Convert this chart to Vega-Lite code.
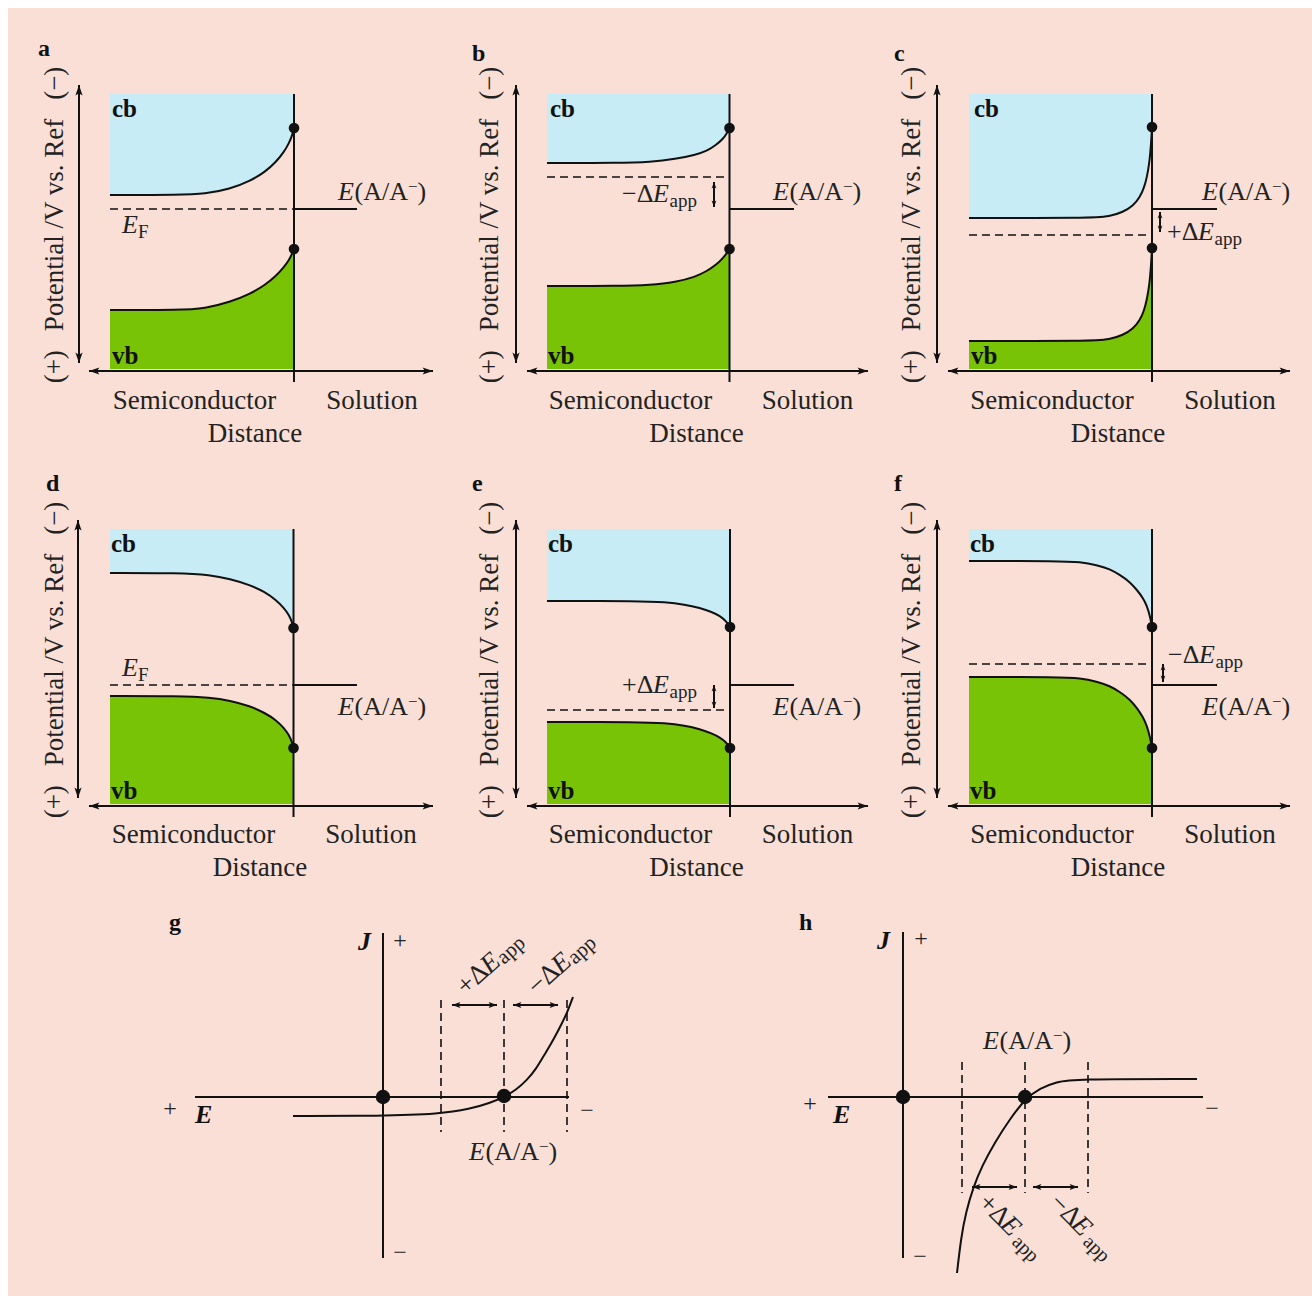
{
  "$schema": "https://vega.github.io/schema/vega-lite/v6.json",
  "width": 1312,
  "height": 1296,
  "padding": 0,
  "autosize": {"type": "fit", "contains": "padding"},
  "background": "white",
  "config": {"view": {"stroke": null}},
  "datasets": {
    "bg": [{"x": 8, "y": 8, "x2": 1312, "y2": 1296}],
    "bands": [
      {"p":"a","b":"cb","x":110,"y":195,"y2":94},{"p":"a","b":"cb","x":180,"y":195,"y2":94},{"p":"a","b":"cb","x":205,"y":194,"y2":94},{"p":"a","b":"cb","x":230,"y":189,"y2":94},{"p":"a","b":"cb","x":250,"y":181,"y2":94},{"p":"a","b":"cb","x":265,"y":172,"y2":94},{"p":"a","b":"cb","x":276,"y":162,"y2":94},{"p":"a","b":"cb","x":284,"y":152,"y2":94},{"p":"a","b":"cb","x":289,"y":143,"y2":94},{"p":"a","b":"cb","x":292,"y":136,"y2":94},{"p":"a","b":"cb","x":294,"y":128,"y2":94},
      {"p":"a","b":"vb","x":110,"y":310,"y2":369},{"p":"a","b":"vb","x":180,"y":310,"y2":369},{"p":"a","b":"vb","x":205,"y":308.5,"y2":369},{"p":"a","b":"vb","x":230,"y":302,"y2":369},{"p":"a","b":"vb","x":250,"y":294,"y2":369},{"p":"a","b":"vb","x":265,"y":285,"y2":369},{"p":"a","b":"vb","x":276,"y":276,"y2":369},{"p":"a","b":"vb","x":284,"y":267,"y2":369},{"p":"a","b":"vb","x":289,"y":260,"y2":369},{"p":"a","b":"vb","x":292,"y":254,"y2":369},{"p":"a","b":"vb","x":294,"y":249,"y2":369},
      {"p":"b","b":"cb","x":547,"y":163,"y2":94},{"p":"b","b":"cb","x":620,"y":163,"y2":94},{"p":"b","b":"cb","x":650,"y":162,"y2":94},{"p":"b","b":"cb","x":676,"y":159,"y2":94},{"p":"b","b":"cb","x":695,"y":155,"y2":94},{"p":"b","b":"cb","x":707,"y":151,"y2":94},{"p":"b","b":"cb","x":716,"y":145,"y2":94},{"p":"b","b":"cb","x":723,"y":139,"y2":94},{"p":"b","b":"cb","x":727,"y":133,"y2":94},{"p":"b","b":"cb","x":729.5,"y":128,"y2":94},
      {"p":"b","b":"vb","x":547,"y":286,"y2":369},{"p":"b","b":"vb","x":620,"y":286,"y2":369},{"p":"b","b":"vb","x":650,"y":285,"y2":369},{"p":"b","b":"vb","x":676,"y":282,"y2":369},{"p":"b","b":"vb","x":695,"y":277,"y2":369},{"p":"b","b":"vb","x":707,"y":271,"y2":369},{"p":"b","b":"vb","x":716,"y":265,"y2":369},{"p":"b","b":"vb","x":723,"y":258,"y2":369},{"p":"b","b":"vb","x":727,"y":253,"y2":369},{"p":"b","b":"vb","x":729.5,"y":249,"y2":369},
      {"p":"c","b":"cb","x":969,"y":218,"y2":94},{"p":"c","b":"cb","x":1090,"y":218,"y2":94},{"p":"c","b":"cb","x":1110,"y":216.5,"y2":94},{"p":"c","b":"cb","x":1123,"y":212,"y2":94},{"p":"c","b":"cb","x":1133,"y":206,"y2":94},{"p":"c","b":"cb","x":1140,"y":197,"y2":94},{"p":"c","b":"cb","x":1144,"y":188,"y2":94},{"p":"c","b":"cb","x":1147,"y":177,"y2":94},{"p":"c","b":"cb","x":1149.5,"y":162,"y2":94},{"p":"c","b":"cb","x":1151,"y":145,"y2":94},{"p":"c","b":"cb","x":1152,"y":127,"y2":94},
      {"p":"c","b":"vb","x":969,"y":341,"y2":369},{"p":"c","b":"vb","x":1090,"y":341,"y2":369},{"p":"c","b":"vb","x":1110,"y":339.5,"y2":369},{"p":"c","b":"vb","x":1123,"y":335,"y2":369},{"p":"c","b":"vb","x":1133,"y":329,"y2":369},{"p":"c","b":"vb","x":1140,"y":320,"y2":369},{"p":"c","b":"vb","x":1144,"y":311,"y2":369},{"p":"c","b":"vb","x":1147,"y":299,"y2":369},{"p":"c","b":"vb","x":1149.5,"y":284,"y2":369},{"p":"c","b":"vb","x":1151,"y":266,"y2":369},{"p":"c","b":"vb","x":1152,"y":248,"y2":369},
      {"p":"d","b":"cb","x":110,"y":573,"y2":529},{"p":"d","b":"cb","x":180,"y":573,"y2":529},{"p":"d","b":"cb","x":210,"y":575,"y2":529},{"p":"d","b":"cb","x":230,"y":579,"y2":529},{"p":"d","b":"cb","x":250,"y":585,"y2":529},{"p":"d","b":"cb","x":265,"y":592,"y2":529},{"p":"d","b":"cb","x":276,"y":600,"y2":529},{"p":"d","b":"cb","x":284,"y":608,"y2":529},{"p":"d","b":"cb","x":289,"y":615,"y2":529},{"p":"d","b":"cb","x":292,"y":622,"y2":529},{"p":"d","b":"cb","x":293.5,"y":628,"y2":529},
      {"p":"d","b":"vb","x":110,"y":696,"y2":804},{"p":"d","b":"vb","x":180,"y":696,"y2":804},{"p":"d","b":"vb","x":210,"y":697.5,"y2":804},{"p":"d","b":"vb","x":230,"y":700.5,"y2":804},{"p":"d","b":"vb","x":250,"y":706,"y2":804},{"p":"d","b":"vb","x":265,"y":713,"y2":804},{"p":"d","b":"vb","x":276,"y":720,"y2":804},{"p":"d","b":"vb","x":284,"y":728,"y2":804},{"p":"d","b":"vb","x":289,"y":735,"y2":804},{"p":"d","b":"vb","x":292,"y":742,"y2":804},{"p":"d","b":"vb","x":293.5,"y":748,"y2":804},
      {"p":"e","b":"cb","x":547,"y":601,"y2":529},{"p":"e","b":"cb","x":640,"y":601,"y2":529},{"p":"e","b":"cb","x":665,"y":602,"y2":529},{"p":"e","b":"cb","x":685,"y":604.5,"y2":529},{"p":"e","b":"cb","x":700,"y":608,"y2":529},{"p":"e","b":"cb","x":712,"y":612,"y2":529},{"p":"e","b":"cb","x":720,"y":616,"y2":529},{"p":"e","b":"cb","x":726,"y":621,"y2":529},{"p":"e","b":"cb","x":730,"y":627,"y2":529},
      {"p":"e","b":"vb","x":547,"y":722,"y2":804},{"p":"e","b":"vb","x":640,"y":722,"y2":804},{"p":"e","b":"vb","x":665,"y":723,"y2":804},{"p":"e","b":"vb","x":685,"y":725.5,"y2":804},{"p":"e","b":"vb","x":700,"y":729,"y2":804},{"p":"e","b":"vb","x":712,"y":733.5,"y2":804},{"p":"e","b":"vb","x":720,"y":737.5,"y2":804},{"p":"e","b":"vb","x":726,"y":742,"y2":804},{"p":"e","b":"vb","x":730,"y":748,"y2":804},
      {"p":"f","b":"cb","x":969,"y":561,"y2":529},{"p":"f","b":"cb","x":1060,"y":561,"y2":529},{"p":"f","b":"cb","x":1080,"y":562,"y2":529},{"p":"f","b":"cb","x":1097,"y":565,"y2":529},{"p":"f","b":"cb","x":1110,"y":569,"y2":529},{"p":"f","b":"cb","x":1120,"y":575,"y2":529},{"p":"f","b":"cb","x":1130,"y":582,"y2":529},{"p":"f","b":"cb","x":1137,"y":590,"y2":529},{"p":"f","b":"cb","x":1143,"y":598,"y2":529},{"p":"f","b":"cb","x":1147,"y":606,"y2":529},{"p":"f","b":"cb","x":1150,"y":616,"y2":529},{"p":"f","b":"cb","x":1152,"y":627,"y2":529},
      {"p":"f","b":"vb","x":969,"y":677,"y2":804},{"p":"f","b":"vb","x":1060,"y":677,"y2":804},{"p":"f","b":"vb","x":1080,"y":678,"y2":804},{"p":"f","b":"vb","x":1097,"y":681.5,"y2":804},{"p":"f","b":"vb","x":1110,"y":686,"y2":804},{"p":"f","b":"vb","x":1120,"y":692,"y2":804},{"p":"f","b":"vb","x":1130,"y":699.5,"y2":804},{"p":"f","b":"vb","x":1137,"y":708,"y2":804},{"p":"f","b":"vb","x":1143,"y":717,"y2":804},{"p":"f","b":"vb","x":1147,"y":726,"y2":804},{"p":"f","b":"vb","x":1150,"y":737,"y2":804},{"p":"f","b":"vb","x":1152,"y":748,"y2":804}
    ],
    "jcurves": [
      {"p":"g","x":293,"y":1116},{"p":"g","x":380,"y":1116},{"p":"g","x":440,"y":1114},{"p":"g","x":470,"y":1109},{"p":"g","x":490,"y":1103},{"p":"g","x":504,"y":1097},{"p":"g","x":516,"y":1090},{"p":"g","x":527,"y":1080},{"p":"g","x":536,"y":1069},{"p":"g","x":543,"y":1057},{"p":"g","x":551,"y":1044},{"p":"g","x":557,"y":1033},{"p":"g","x":563,"y":1021},{"p":"g","x":567,"y":1013},{"p":"g","x":573,"y":997},
      {"p":"h","x":957,"y":1273},{"p":"h","x":961,"y":1238},{"p":"h","x":966,"y":1212},{"p":"h","x":973,"y":1188},{"p":"h","x":982,"y":1166},{"p":"h","x":995,"y":1142},{"p":"h","x":1010,"y":1119},{"p":"h","x":1025,"y":1099},{"p":"h","x":1040,"y":1088},{"p":"h","x":1057,"y":1082},{"p":"h","x":1072,"y":1079},{"p":"h","x":1197,"y":1079}
    ],
    "rules": [
      {"x":79,"y":85,"x2":79,"y2":363},{"x":89,"y":371,"x2":433,"y2":371},{"x":294,"y":94,"x2":294,"y2":382},{"x":294,"y":209,"x2":357,"y2":209},
      {"x":516,"y":85,"x2":516,"y2":363},{"x":527,"y":371,"x2":868,"y2":371},{"x":729.5,"y":94,"x2":729.5,"y2":382},{"x":729.5,"y":209,"x2":794,"y2":209},{"x":714,"y":182,"x2":714,"y2":207},
      {"x":937,"y":85,"x2":937,"y2":363},{"x":948,"y":371,"x2":1290,"y2":371},{"x":1152,"y":94,"x2":1152,"y2":382},{"x":1152,"y":209,"x2":1217,"y2":209},{"x":1160,"y":212,"x2":1160,"y2":232},
      {"x":78,"y":520,"x2":78,"y2":798},{"x":89,"y":806,"x2":433,"y2":806},{"x":293.5,"y":529,"x2":293.5,"y2":817},{"x":293.5,"y":685,"x2":357,"y2":685},
      {"x":516,"y":520,"x2":516,"y2":798},{"x":527,"y":806,"x2":868,"y2":806},{"x":730,"y":529,"x2":730,"y2":817},{"x":730,"y":685,"x2":794,"y2":685},{"x":714,"y":685,"x2":714,"y2":708},
      {"x":937,"y":520,"x2":937,"y2":798},{"x":948,"y":806,"x2":1290,"y2":806},{"x":1152,"y":529,"x2":1152,"y2":817},{"x":1152,"y":685,"x2":1217,"y2":685},{"x":1163,"y":664,"x2":1163,"y2":682},
      {"x":383,"y":933,"x2":383,"y2":1258},{"x":195,"y":1097,"x2":569,"y2":1097},{"x":452,"y":1005,"x2":497,"y2":1005},{"x":513,"y":1005,"x2":558,"y2":1005},
      {"x":903,"y":932,"x2":903,"y2":1258},{"x":828,"y":1097,"x2":1203,"y2":1097},{"x":972,"y":1187,"x2":1017,"y2":1187},{"x":1033,"y":1187,"x2":1078,"y2":1187}
    ],
    "dashed": [
      {"x":110,"y":209,"x2":294,"y2":209},{"x":547,"y":177,"x2":729.5,"y2":177},{"x":969,"y":235,"x2":1152,"y2":235},
      {"x":110,"y":685,"x2":293.5,"y2":685},{"x":547,"y":710,"x2":730,"y2":710},{"x":969,"y":664,"x2":1152,"y2":664},
      {"x":441,"y":1000,"x2":441,"y2":1132},{"x":504,"y":1000,"x2":504,"y2":1132},{"x":567,"y":1000,"x2":567,"y2":1132},
      {"x":962,"y":1062,"x2":962,"y2":1193},{"x":1025,"y":1062,"x2":1025,"y2":1193},{"x":1088,"y":1062,"x2":1088,"y2":1193}
    ],
    "headsBig": [
      {"x":79,"y":85,"dir":0},{"x":79,"y":363,"dir":180},{"x":89,"y":371,"dir":270},{"x":433,"y":371,"dir":90},
      {"x":516,"y":85,"dir":0},{"x":516,"y":363,"dir":180},{"x":527,"y":371,"dir":270},{"x":868,"y":371,"dir":90},
      {"x":937,"y":85,"dir":0},{"x":937,"y":363,"dir":180},{"x":948,"y":371,"dir":270},{"x":1290,"y":371,"dir":90},
      {"x":78,"y":520,"dir":0},{"x":78,"y":798,"dir":180},{"x":89,"y":806,"dir":270},{"x":433,"y":806,"dir":90},
      {"x":516,"y":520,"dir":0},{"x":516,"y":798,"dir":180},{"x":527,"y":806,"dir":270},{"x":868,"y":806,"dir":90},
      {"x":937,"y":520,"dir":0},{"x":937,"y":798,"dir":180},{"x":948,"y":806,"dir":270},{"x":1290,"y":806,"dir":90}
    ],
    "headsSmall": [
      {"x":714,"y":182,"dir":0},{"x":714,"y":207,"dir":180},{"x":1160,"y":212,"dir":0},{"x":1160,"y":232,"dir":180},
      {"x":714,"y":685,"dir":0},{"x":714,"y":708,"dir":180},{"x":1163,"y":664,"dir":0},{"x":1163,"y":682,"dir":180}
    ],
    "headsMid": [
      {"x":452,"y":1005,"dir":270},{"x":497,"y":1005,"dir":90},{"x":513,"y":1005,"dir":270},{"x":558,"y":1005,"dir":90},
      {"x":972,"y":1187,"dir":270},{"x":1017,"y":1187,"dir":90},{"x":1033,"y":1187,"dir":270},{"x":1078,"y":1187,"dir":90}
    ],
    "dotsSmall": [
      {"x":294,"y":128},{"x":294,"y":249},{"x":729.5,"y":128},{"x":729.5,"y":249},{"x":1152,"y":127},{"x":1152,"y":248},
      {"x":293.5,"y":628},{"x":293.5,"y":748},{"x":730,"y":627},{"x":730,"y":748},{"x":1152,"y":627},{"x":1152,"y":748}
    ],
    "dotsBig": [{"x":383,"y":1097},{"x":504,"y":1096},{"x":903,"y":1097},{"x":1025,"y":1097}],
    "labels": [
      {"r":"L","t":"a","x":38,"y":56},{"r":"L","t":"b","x":472,"y":61},{"r":"L","t":"c","x":894,"y":61},
      {"r":"L","t":"d","x":46,"y":491},{"r":"L","t":"e","x":472,"y":491},{"r":"L","t":"f","x":894,"y":491},
      {"r":"L","t":"g","x":169,"y":930},{"r":"L","t":"h","x":799,"y":930},
      {"r":"B","t":"cb","x":112,"y":117},{"r":"B","t":"vb","x":112,"y":364},
      {"r":"B","t":"cb","x":550,"y":117},{"r":"B","t":"vb","x":548,"y":364},
      {"r":"B","t":"cb","x":974,"y":117},{"r":"B","t":"vb","x":971,"y":364},
      {"r":"B","t":"cb","x":111,"y":552},{"r":"B","t":"vb","x":111,"y":799},
      {"r":"B","t":"cb","x":548,"y":552},{"r":"B","t":"vb","x":548,"y":799},
      {"r":"B","t":"cb","x":970,"y":552},{"r":"B","t":"vb","x":970,"y":799},
      {"r":"N","t":"Semiconductor","x":194.5,"y":409},{"r":"N","t":"Solution","x":372,"y":409},{"r":"N","t":"Distance","x":255,"y":442},
      {"r":"N","t":"Semiconductor","x":630.5,"y":409},{"r":"N","t":"Solution","x":807.5,"y":409},{"r":"N","t":"Distance","x":696.5,"y":442},
      {"r":"N","t":"Semiconductor","x":1052,"y":409},{"r":"N","t":"Solution","x":1230,"y":409},{"r":"N","t":"Distance","x":1118,"y":442},
      {"r":"N","t":"Semiconductor","x":193.5,"y":843},{"r":"N","t":"Solution","x":371,"y":843},{"r":"N","t":"Distance","x":260,"y":876},
      {"r":"N","t":"Semiconductor","x":630.5,"y":843},{"r":"N","t":"Solution","x":807.5,"y":843},{"r":"N","t":"Distance","x":696.5,"y":876},
      {"r":"N","t":"Semiconductor","x":1052,"y":843},{"r":"N","t":"Solution","x":1230,"y":843},{"r":"N","t":"Distance","x":1118,"y":876},
      {"r":"Y","t":"(+)\u00a0\u00a0\u2009Potential /V vs. Ref\u00a0\u00a0\u2009(−)","x":55,"y":225},{"r":"Y","t":"(+)\u00a0\u00a0\u2009Potential /V vs. Ref\u00a0\u00a0\u2009(−)","x":490,"y":225},{"r":"Y","t":"(+)\u00a0\u00a0\u2009Potential /V vs. Ref\u00a0\u00a0\u2009(−)","x":912,"y":225},
      {"r":"Y","t":"(+)\u00a0\u00a0\u2009Potential /V vs. Ref\u00a0\u00a0\u2009(−)","x":55,"y":660},{"r":"Y","t":"(+)\u00a0\u00a0\u2009Potential /V vs. Ref\u00a0\u00a0\u2009(−)","x":490,"y":660},{"r":"Y","t":"(+)\u00a0\u00a0\u2009Potential /V vs. Ref\u00a0\u00a0\u2009(−)","x":912,"y":660},
      {"r":"I","t":"E","x":338,"y":200},{"r":"R","t":"(A/A","x":354.5,"y":200},{"r":"P","t":"−","x":408,"y":192},{"r":"R","t":")","x":417.5,"y":200},
      {"r":"I","t":"E","x":773,"y":200},{"r":"R","t":"(A/A","x":789.5,"y":200},{"r":"P","t":"−","x":843,"y":192},{"r":"R","t":")","x":852.5,"y":200},
      {"r":"I","t":"E","x":1202,"y":200},{"r":"R","t":"(A/A","x":1218.5,"y":200},{"r":"P","t":"−","x":1272,"y":192},{"r":"R","t":")","x":1281.5,"y":200},
      {"r":"I","t":"E","x":338,"y":715},{"r":"R","t":"(A/A","x":354.5,"y":715},{"r":"P","t":"−","x":408,"y":707},{"r":"R","t":")","x":417.5,"y":715},
      {"r":"I","t":"E","x":773,"y":715},{"r":"R","t":"(A/A","x":789.5,"y":715},{"r":"P","t":"−","x":843,"y":707},{"r":"R","t":")","x":852.5,"y":715},
      {"r":"I","t":"E","x":1202,"y":715},{"r":"R","t":"(A/A","x":1218.5,"y":715},{"r":"P","t":"−","x":1272,"y":707},{"r":"R","t":")","x":1281.5,"y":715},
      {"r":"I","t":"E","x":469,"y":1160},{"r":"R","t":"(A/A","x":485.5,"y":1160},{"r":"P","t":"−","x":539,"y":1152},{"r":"R","t":")","x":548.5,"y":1160},
      {"r":"I","t":"E","x":983,"y":1049},{"r":"R","t":"(A/A","x":999.5,"y":1049},{"r":"P","t":"−","x":1053,"y":1041},{"r":"R","t":")","x":1062.5,"y":1049},
      {"r":"I","t":"E","x":122,"y":233},{"r":"S","t":"F","x":138,"y":238},
      {"r":"I","t":"E","x":122,"y":676},{"r":"S","t":"F","x":138,"y":681},
      {"r":"R","t":"−Δ","x":622,"y":202},{"r":"I","t":"E","x":653,"y":202},{"r":"S","t":"app","x":669.5,"y":207},
      {"r":"R","t":"+Δ","x":1167,"y":240},{"r":"I","t":"E","x":1198,"y":240},{"r":"S","t":"app","x":1214.5,"y":245},
      {"r":"R","t":"+Δ","x":622,"y":693},{"r":"I","t":"E","x":653,"y":693},{"r":"S","t":"app","x":669.5,"y":698},
      {"r":"R","t":"−Δ","x":1168,"y":663},{"r":"I","t":"E","x":1199,"y":663},{"r":"S","t":"app","x":1215.5,"y":668},
      {"r":"BI","t":"J","x":358,"y":950},{"r":"BI","t":"E","x":195,"y":1123},
      {"r":"BI","t":"J","x":877,"y":949},{"r":"BI","t":"E","x":833,"y":1123},
      {"r":"PM","t":"+","x":400,"y":941},{"r":"PM","t":"−","x":400,"y":1253},{"r":"PM","t":"+","x":170,"y":1109},{"r":"PM","t":"−","x":587,"y":1111},
      {"r":"PM","t":"+","x":921,"y":939},{"r":"PM","t":"−","x":920,"y":1257},{"r":"PM","t":"+","x":810,"y":1104},{"r":"PM","t":"−","x":1212,"y":1109},
      {"r":"gR","t":"+Δ","x":466,"y":996},{"r":"gI","t":"E","x":489.7,"y":974.7},{"r":"gS","t":"app","x":504,"y":965},
      {"r":"gR","t":"−Δ","x":537,"y":996},{"r":"gI","t":"E","x":560.7,"y":974.7},{"r":"gS","t":"app","x":575,"y":965},
      {"r":"hR","t":"+Δ","x":977,"y":1204},{"r":"hI","t":"E","x":998.9,"y":1226},{"r":"hS","t":"app","x":1011,"y":1243},
      {"r":"hR","t":"−Δ","x":1048.2,"y":1204},{"r":"hI","t":"E","x":1070.1,"y":1226},{"r":"hS","t":"app","x":1082,"y":1243}
    ]
  },
  "encoding": {
    "x": {"field": "x", "type": "quantitative", "scale": {"domain": [0, 1312], "nice": false, "zero": false}, "axis": null},
    "y": {"field": "y", "type": "quantitative", "scale": {"domain": [0, 1296], "nice": false, "zero": false, "reverse": true}, "axis": null}
  },
  "layer": [
    {"data": {"name": "bg"}, "mark": {"type": "rect", "color": "#f9dfd6"}, "encoding": {"x2": {"field": "x2"}, "y2": {"field": "y2"}}},
    {"data": {"name": "bands"}, "mark": {"type": "area", "orient": "vertical", "interpolate": "basis", "opacity": 1},
     "encoding": {"y2": {"field": "y2"}, "detail": {"field": "p"},
       "color": {"field": "b", "type": "nominal", "scale": {"domain": ["cb", "vb"], "range": ["#c8ecf5", "#78c305"]}, "legend": null}}},
    {"data": {"name": "bands"}, "mark": {"type": "line", "interpolate": "basis", "color": "#111", "strokeWidth": 2},
     "encoding": {"detail": [{"field": "p"}, {"field": "b"}]}},
    {"data": {"name": "jcurves"}, "mark": {"type": "line", "interpolate": "basis", "color": "#111", "strokeWidth": 2},
     "encoding": {"detail": {"field": "p"}}},
    {"data": {"name": "dashed"}, "mark": {"type": "rule", "color": "#111", "strokeWidth": 1.6, "strokeDash": [8, 5]},
     "encoding": {"x2": {"field": "x2"}, "y2": {"field": "y2"}}},
    {"data": {"name": "rules"}, "mark": {"type": "rule", "color": "#111", "strokeWidth": 2},
     "encoding": {"x2": {"field": "x2"}, "y2": {"field": "y2"}}},
    {"data": {"name": "headsBig"}, "mark": {"type": "point", "shape": "M0,0L-0.55,1.6L0,1.25L0.55,1.6Z", "filled": true, "color": "#111", "opacity": 1, "size": 169},
     "encoding": {"angle": {"field": "dir", "type": "quantitative", "scale": null}}},
    {"data": {"name": "headsSmall"}, "mark": {"type": "point", "shape": "M0,0L-0.6,1.6L0,1.2L0.6,1.6Z", "filled": true, "color": "#111", "opacity": 1, "size": 64},
     "encoding": {"angle": {"field": "dir", "type": "quantitative", "scale": null}}},
    {"data": {"name": "headsMid"}, "mark": {"type": "point", "shape": "M0,0L-0.55,1.6L0,1.25L0.55,1.6Z", "filled": true, "color": "#111", "opacity": 1, "size": 110},
     "encoding": {"angle": {"field": "dir", "type": "quantitative", "scale": null}}},
    {"data": {"name": "dotsSmall"}, "mark": {"type": "circle", "color": "#111", "opacity": 1, "size": 113}},
    {"data": {"name": "dotsBig"}, "mark": {"type": "circle", "color": "#111", "opacity": 1, "size": 210}},
    {"data": {"name": "labels"}, "transform": [{"filter": "datum.r === 'L'"}],
     "mark": {"type": "text", "font": "Liberation Serif", "fontSize": 24, "fontWeight": "bold", "align": "left", "baseline": "alphabetic", "color": "#111"},
     "encoding": {"text": {"field": "t"}}},
    {"data": {"name": "labels"}, "transform": [{"filter": "datum.r === 'B'"}],
     "mark": {"type": "text", "font": "Liberation Serif", "fontSize": 25, "fontWeight": "bold", "align": "left", "baseline": "alphabetic", "color": "#111"},
     "encoding": {"text": {"field": "t"}}},
    {"data": {"name": "labels"}, "transform": [{"filter": "datum.r === 'N'"}],
     "mark": {"type": "text", "font": "Liberation Serif", "fontSize": 27, "align": "center", "baseline": "alphabetic", "color": "#222"},
     "encoding": {"text": {"field": "t"}}},
    {"data": {"name": "labels"}, "transform": [{"filter": "datum.r === 'Y'"}],
     "mark": {"type": "text", "font": "Liberation Serif", "fontSize": 27, "align": "center", "baseline": "middle", "angle": 270, "color": "#222"},
     "encoding": {"text": {"field": "t"}}},
    {"data": {"name": "labels"}, "transform": [{"filter": "datum.r === 'R'"}],
     "mark": {"type": "text", "font": "Liberation Serif", "fontSize": 26, "align": "left", "baseline": "alphabetic", "color": "#222"},
     "encoding": {"text": {"field": "t"}}},
    {"data": {"name": "labels"}, "transform": [{"filter": "datum.r === 'P'"}],
     "mark": {"type": "text", "font": "Liberation Serif", "fontSize": 17, "align": "left", "baseline": "alphabetic", "color": "#222"},
     "encoding": {"text": {"field": "t"}}},
    {"data": {"name": "labels"}, "transform": [{"filter": "datum.r === 'I'"}],
     "mark": {"type": "text", "font": "Liberation Serif", "fontSize": 26, "fontStyle": "italic", "align": "left", "baseline": "alphabetic", "color": "#222"},
     "encoding": {"text": {"field": "t"}}},
    {"data": {"name": "labels"}, "transform": [{"filter": "datum.r === 'S'"}],
     "mark": {"type": "text", "font": "Liberation Serif", "fontSize": 19, "align": "left", "baseline": "alphabetic", "color": "#222"},
     "encoding": {"text": {"field": "t"}}},
    {"data": {"name": "labels"}, "transform": [{"filter": "datum.r === 'BI'"}],
     "mark": {"type": "text", "font": "Liberation Serif", "fontSize": 26, "fontWeight": "bold", "fontStyle": "italic", "align": "left", "baseline": "alphabetic", "color": "#111"},
     "encoding": {"text": {"field": "t"}}},
    {"data": {"name": "labels"}, "transform": [{"filter": "datum.r === 'PM'"}],
     "mark": {"type": "text", "font": "Liberation Serif", "fontSize": 24, "align": "center", "baseline": "middle", "color": "#222"},
     "encoding": {"text": {"field": "t"}}},
    {"data": {"name": "labels"}, "transform": [{"filter": "datum.r === 'gR'"}],
     "mark": {"type": "text", "font": "Liberation Serif", "fontSize": 27, "align": "left", "baseline": "alphabetic", "angle": -42, "color": "#222"},
     "encoding": {"text": {"field": "t"}}},
    {"data": {"name": "labels"}, "transform": [{"filter": "datum.r === 'gI'"}],
     "mark": {"type": "text", "font": "Liberation Serif", "fontSize": 27, "fontStyle": "italic", "align": "left", "baseline": "alphabetic", "angle": -42, "color": "#222"},
     "encoding": {"text": {"field": "t"}}},
    {"data": {"name": "labels"}, "transform": [{"filter": "datum.r === 'gS'"}],
     "mark": {"type": "text", "font": "Liberation Serif", "fontSize": 21, "align": "left", "baseline": "alphabetic", "angle": -42, "color": "#222"},
     "encoding": {"text": {"field": "t"}}},
    {"data": {"name": "labels"}, "transform": [{"filter": "datum.r === 'hR'"}],
     "mark": {"type": "text", "font": "Liberation Serif", "fontSize": 27, "align": "left", "baseline": "alphabetic", "angle": 45, "color": "#222"},
     "encoding": {"text": {"field": "t"}}},
    {"data": {"name": "labels"}, "transform": [{"filter": "datum.r === 'hI'"}],
     "mark": {"type": "text", "font": "Liberation Serif", "fontSize": 27, "fontStyle": "italic", "align": "left", "baseline": "alphabetic", "angle": 45, "color": "#222"},
     "encoding": {"text": {"field": "t"}}},
    {"data": {"name": "labels"}, "transform": [{"filter": "datum.r === 'hS'"}],
     "mark": {"type": "text", "font": "Liberation Serif", "fontSize": 20, "align": "left", "baseline": "alphabetic", "angle": 45, "color": "#222"},
     "encoding": {"text": {"field": "t"}}}
  ]
}
